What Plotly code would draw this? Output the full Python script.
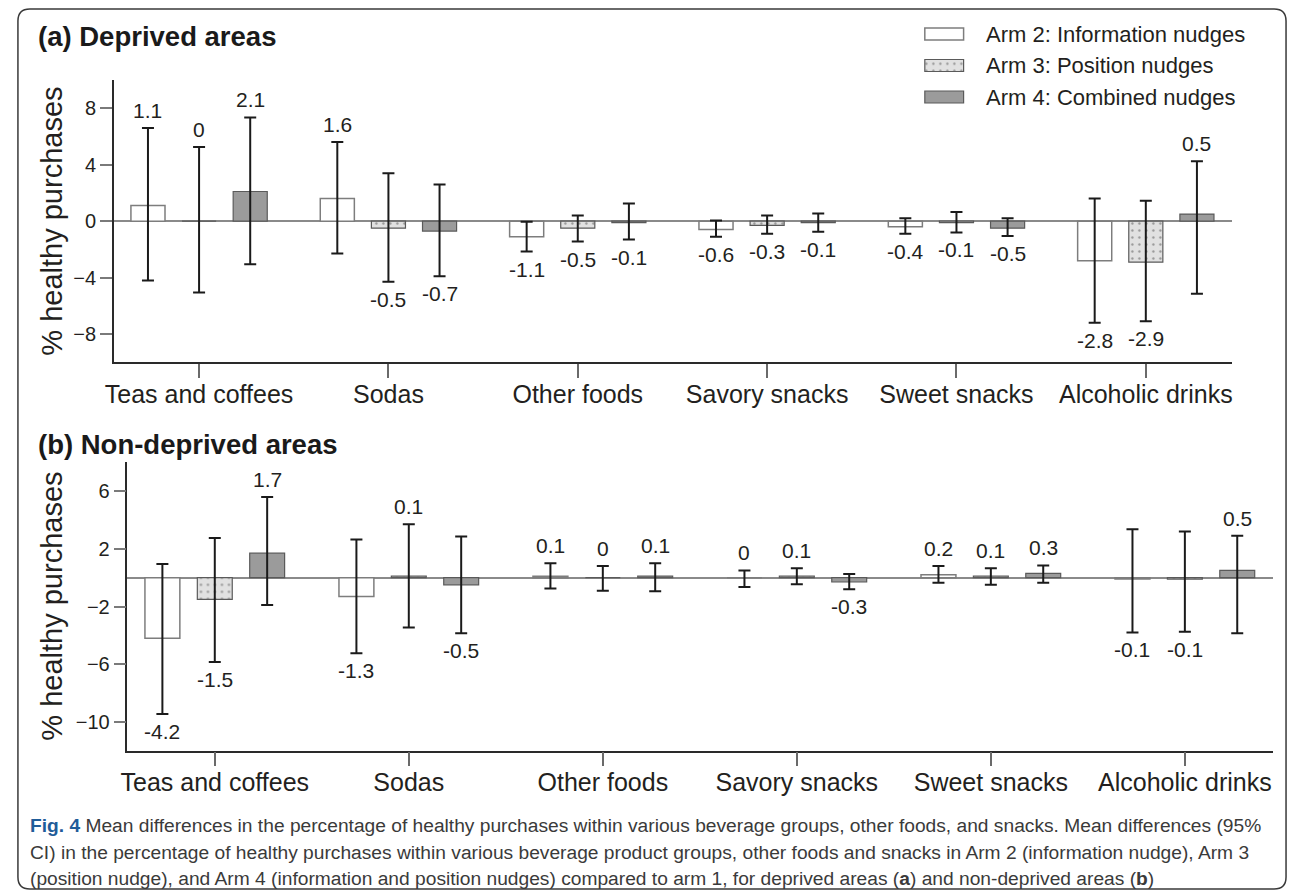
import plotly.graph_objects as go

# ---- data -------------------------------------------------------------
categories = ["Teas and coffees", "Sodas", "Other foods",
              "Savory snacks", "Sweet snacks", "Alcoholic drinks"]
arm_names = ["Arm 2: Information nudges", "Arm 3: Position nudges",
             "Arm 4: Combined nudges"]

# (a) Deprived areas: mean difference and 95% CI bounds
a_arm2 = [1.1, 1.6, -1.1, -0.6, -0.4, -2.8]
a_arm2_lo = [-4.2, -2.3, -2.15, -1.1, -0.9, -7.2]
a_arm2_hi = [6.6, 5.6, -0.05, 0.05, 0.2, 1.6]
a_arm3 = [0, -0.5, -0.5, -0.3, -0.1, -2.9]
a_arm3_lo = [-5.05, -4.3, -1.45, -0.9, -0.8, -7.1]
a_arm3_hi = [5.25, 3.4, 0.4, 0.4, 0.65, 1.45]
a_arm4 = [2.1, -0.7, -0.1, -0.1, -0.5, 0.5]
a_arm4_lo = [-3.05, -3.9, -1.3, -0.75, -1.05, -5.15]
a_arm4_hi = [7.35, 2.6, 1.25, 0.55, 0.2, 4.25]

# (b) Non-deprived areas
b_arm2 = [-4.2, -1.3, 0.1, 0, 0.2, -0.1]
b_arm2_lo = [-9.45, -5.25, -0.75, -0.65, -0.35, -3.8]
b_arm2_hi = [0.95, 2.65, 1.0, 0.5, 0.8, 3.35]
b_arm3 = [-1.5, 0.1, 0, 0.1, 0.1, -0.1]
b_arm3_lo = [-5.85, -3.45, -0.9, -0.45, -0.5, -3.75]
b_arm3_hi = [2.75, 3.7, 0.8, 0.65, 0.65, 3.2]
b_arm4 = [1.7, -0.5, 0.1, -0.3, 0.3, 0.5]
b_arm4_lo = [-1.9, -3.85, -0.95, -0.8, -0.35, -3.85]
b_arm4_hi = [5.6, 2.85, 1.0, 0.25, 0.85, 2.9]

panel_titles = ["(a) Deprived areas", "(b) Non-deprived areas"]
y_title = "% healthy purchases"

caption_lines = [
    "<span style='color:#1f5c99'><b>Fig. 4</b></span> Mean differences in the percentage of healthy "
    "purchases within various beverage groups, other foods, and snacks. Mean differences (95%",
    "CI) in the percentage of healthy purchases within various beverage product groups, "
    "other foods and snacks in Arm 2 (information nudge), Arm 3",
    "(position nudge), and Arm 4 (information and position nudges) compared to arm 1, "
    "for deprived areas (<b>a</b>) and non-deprived areas (<b>b</b>)",
]

# ---- page geometry (pixels) -------------------------------------------
W, H = 1292, 892


def px(x):
    return x / W


def py(y):
    return 1 - y / H


FONT = "Liberation Sans, Arial, Helvetica, sans-serif"
INK = "#231f20"

bar_offsets = [-0.27, 0.0, 0.27]
bar_width = 0.18
arm_styles = [
    dict(color="#ffffff", line=dict(color="#7d7d7d", width=1.5)),
    dict(color="#e1e1e1", line=dict(color="#5a5a5a", width=1.2),
         pattern=dict(shape=".", fgcolor="#505050", bgcolor="#e1e1e1",
                      size=7, solidity=0.09)),
    dict(color="#9b9b9b", line=dict(color="#5a5a5a", width=1.2)),
]
err_style = dict(type="data", symmetric=False, color="#1a1a1a",
                 thickness=2, width=6)

panels = [
    dict(xa="x", ya="y",
         vals=[a_arm2, a_arm3, a_arm4],
         lo=[a_arm2_lo, a_arm3_lo, a_arm4_lo],
         hi=[a_arm2_hi, a_arm3_hi, a_arm4_hi]),
    dict(xa="x2", ya="y2",
         vals=[b_arm2, b_arm3, b_arm4],
         lo=[b_arm2_lo, b_arm3_lo, b_arm4_lo],
         hi=[b_arm2_hi, b_arm3_hi, b_arm4_hi]),
]

fig = go.Figure()
annotations = []

for p in panels:
    for k in range(3):
        vals, lo, hi = p["vals"][k], p["lo"][k], p["hi"][k]
        xs = [i + bar_offsets[k] for i in range(len(categories))]
        fig.add_trace(go.Bar(
            x=xs, y=vals, width=bar_width,
            marker=arm_styles[k],
            error_y=dict(err_style,
                         array=[h - v for v, h in zip(vals, hi)],
                         arrayminus=[v - l for v, l in zip(vals, lo)]),
            xaxis=p["xa"], yaxis=p["ya"],
            showlegend=False, hoverinfo="skip",
        ))
        # value labels beyond the whisker end
        for x, v, l, h in zip(xs, vals, lo, hi):
            above = v >= 0
            annotations.append(dict(
                x=x, y=h if above else l, xref=p["xa"], yref=p["ya"],
                text=f"{v:g}", showarrow=False,
                yanchor="middle", yshift=17.5 if above else -17.5,
                font=dict(size=21, color=INK, family=FONT),
            ))

# legend swatches: one short horizontal bar per arm
for k in range(3):
    fig.add_trace(go.Bar(
        x=[1], y=[k], base=0, width=0.38, orientation="h",
        marker=arm_styles[k], xaxis="x3", yaxis="y3",
        showlegend=False, hoverinfo="skip",
    ))
    annotations.append(dict(
        x=px(983), y=k, xref="paper", yref="y3", text=arm_names[k],
        showarrow=False, xanchor="left", yanchor="middle",
        font=dict(size=22, color=INK, family=FONT),
    ))

# panel titles
for t, yc in zip(panel_titles, [37, 445]):
    annotations.append(dict(
        x=px(27), y=py(yc), xref="paper", yref="paper",
        text=f"<b>{t}</b>", showarrow=False,
        xanchor="left", yanchor="middle",
        font=dict(size=27.5, color="#1a1a1a", family=FONT),
    ))

# y-axis titles
for yc in [221, 606]:
    annotations.append(dict(
        x=px(43), y=py(yc), xref="paper", yref="paper",
        text=y_title, textangle=-90, showarrow=False,
        xanchor="center", yanchor="middle",
        font=dict(size=29, color=INK, family=FONT),
    ))

# caption
for line, yc in zip(caption_lines, [825.5, 852, 878.5]):
    annotations.append(dict(
        x=px(19), y=py(yc), xref="paper", yref="paper",
        text=line, showarrow=False, xanchor="left", yanchor="middle",
        font=dict(size=19.2, color="#3a3a3a", family=FONT),
    ))

# rounded frame around the whole figure
L, T, R, B, r = 9, 9, 1287, 889, 12
rx, ry = r / W, r / H
frame = (
    f"M {px(L)+rx},{py(T)} L {px(R)-rx},{py(T)} "
    f"Q {px(R)},{py(T)} {px(R)},{py(T)-ry} "
    f"L {px(R)},{py(B)+ry} Q {px(R)},{py(B)} {px(R)-rx},{py(B)} "
    f"L {px(L)+rx},{py(B)} Q {px(L)},{py(B)} {px(L)},{py(B)+ry} "
    f"L {px(L)},{py(T)-ry} Q {px(L)},{py(T)} {px(L)+rx},{py(T)} Z"
)

xaxis_common = dict(
    range=[-0.45, 5.455], tickmode="array",
    tickvals=list(range(len(categories))), ticktext=categories,
    showline=True, linecolor="#2a2a2a", linewidth=1.5,
    ticks="outside", ticklen=14, tickwidth=1.5, tickcolor="#6a6a6a",
    ticklabelstandoff=-5,
    tickfont=dict(size=25, color=INK, family=FONT),
    showgrid=False, zeroline=False, fixedrange=True,
)
yaxis_common = dict(
    tickmode="linear", dtick=4,
    showline=True, linecolor="#2a2a2a", linewidth=1.5,
    ticks="outside", ticklen=12, tickwidth=1.5, tickcolor="#7a7a7a",
    tickfont=dict(size=20, color=INK, family=FONT),
    showgrid=False, zeroline=True, zerolinecolor="#8a8a8a",
    zerolinewidth=1.5, fixedrange=True,
)

fig.update_layout(
    width=W, height=H,
    margin=dict(l=0, r=0, t=0, b=0),
    paper_bgcolor="white", plot_bgcolor="white",
    barmode="overlay", showlegend=False,
    font=dict(family=FONT, color=INK),
    xaxis=dict(xaxis_common, domain=[px(105.7), px(1232.5)], anchor="y"),
    yaxis=dict(yaxis_common, domain=[py(362.3), py(80)], range=[-10, 10],
               tick0=0, anchor="x"),
    xaxis2=dict(xaxis_common, domain=[px(119.4), px(1274)], anchor="y2"),
    yaxis2=dict(yaxis_common, domain=[py(750.7), py(462.3)], range=[-12, 8],
                tick0=-2, anchor="x2"),
    xaxis3=dict(domain=[px(921), px(964)], range=[-0.05, 1.05],
                visible=False, fixedrange=True, anchor="y3"),
    yaxis3=dict(domain=[py(112.75), py(18.25)], range=[2.5, -0.5],
                visible=False, fixedrange=True, anchor="x3"),
    annotations=annotations,
    shapes=[dict(type="path", path=frame, xref="paper", yref="paper",
                 line=dict(color="#3a3a3a", width=1.5), layer="above")],
)

fig.write_html("out.html", config={"displayModeBar": False})
